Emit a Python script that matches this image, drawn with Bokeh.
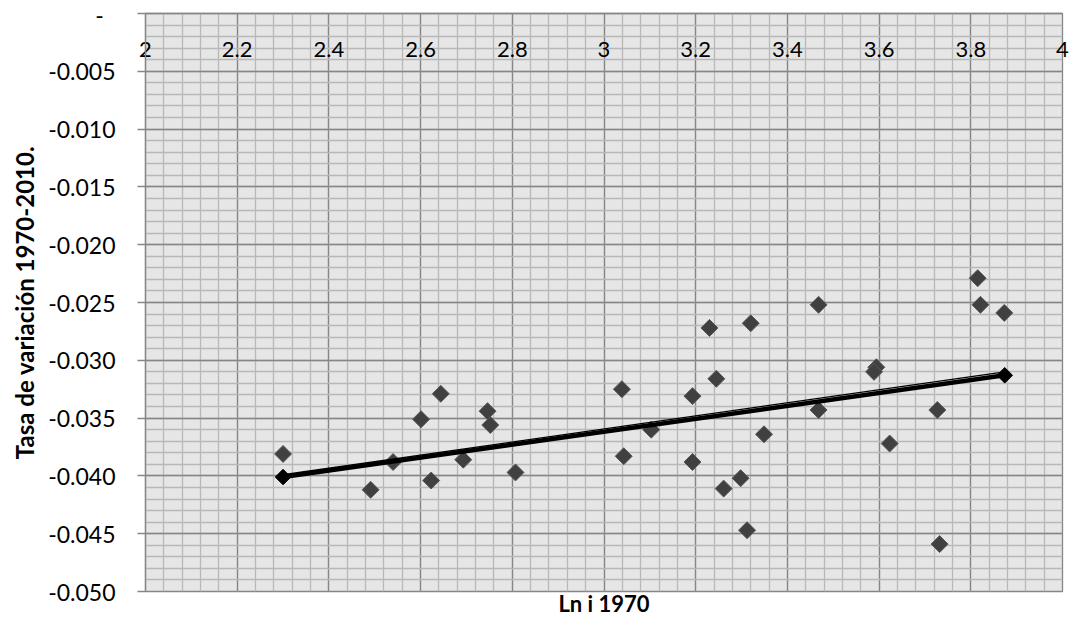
from bokeh.plotting import figure
from bokeh.models import FixedTicker, LinearAxis
from bokeh.embed import file_html
from bokeh.resources import INLINE

# ---- data ----
ln_i_1970 = [2.300, 2.491, 2.540, 2.601, 2.644, 2.623, 2.693, 2.746, 2.752, 2.807,
             3.039, 3.043, 3.103, 3.193, 3.245, 3.193, 3.349, 3.298, 3.261, 3.312,
             3.468, 3.623, 3.727, 3.732, 3.230, 3.320, 3.468, 3.594, 3.589, 3.815,
             3.821, 3.873]
tasa_1970_2010 = [-0.0381, -0.0412, -0.0388, -0.0351, -0.0329, -0.0404, -0.0386, -0.0344, -0.0356, -0.0397,
                  -0.0325, -0.0383, -0.0360, -0.0331, -0.0316, -0.0388, -0.0364, -0.0402, -0.0411, -0.0447,
                  -0.0343, -0.0372, -0.0343, -0.0459, -0.0272, -0.0268, -0.0252, -0.0306, -0.0310, -0.0229,
                  -0.0252, -0.0259]

trend_x = [2.300, 3.874]
trend_y = [-0.0401, -0.0313]
trend_thin_y = [-0.0399, -0.0310]

x_ticks = [2.0, 2.2, 2.4, 2.6, 2.8, 3.0, 3.2, 3.4, 3.6, 3.8, 4.0]
x_tick_labels = ["2", "2.2", "2.4", "2.6", "2.8", "3", "3.2", "3.4", "3.6", "3.8", "4"]
x_minor = [round(2 + 0.04 * i, 2) for i in range(51)]

y_ticks = [0.0, -0.005, -0.010, -0.015, -0.020, -0.025, -0.030, -0.035, -0.040, -0.045, -0.050]
y_tick_labels = ["-\u00a0\u00a0", "-0.005", "-0.010", "-0.015", "-0.020", "-0.025", "-0.030",
                 "-0.035", "-0.040", "-0.045", "-0.050"]
y_minor = [round(-0.001 * i, 3) for i in range(51)]

x_title = "Ln i 1970"
y_title = "Tasa de variación 1970-2010."

FONT = "Lato"
GRID_MAJOR = "#868686"

p = figure(width=1069, height=621, output_backend="svg", toolbar_location=None,
           x_range=(2, 4), y_range=(-0.05, 0), x_axis_location="above",
           min_border_left=145, min_border_right=7, min_border_top=13, min_border_bottom=30,
           background_fill_color="#e6e6e6", border_fill_color="white",
           outline_line_color=GRID_MAJOR, outline_line_width=1.3)

# x axis crosses at y = 0 (top); its labels sit just inside the plot
p.xaxis.ticker = FixedTicker(ticks=x_ticks, minor_ticks=x_minor)
p.xaxis.major_label_overrides = {t: l for t, l in zip(x_ticks, x_tick_labels)}
p.xaxis.major_tick_out = 0
p.xaxis.major_tick_in = 0
p.xaxis.minor_tick_out = 0
p.xaxis.minor_tick_in = 0
p.xaxis.axis_line_color = GRID_MAJOR
p.xaxis.axis_line_width = 1.3
p.xaxis.major_label_standoff = -43
p.xaxis.major_label_text_font = FONT
p.xaxis.major_label_text_font_size = "22px"
p.xaxis.major_label_text_color = "black"

# bottom axis carrying only the x title
bottom = LinearAxis(ticker=FixedTicker(ticks=[]),
                    major_tick_out=0, major_tick_in=0, minor_tick_out=0, minor_tick_in=0,
                    axis_line_color=None, major_label_standoff=0,
                    major_label_text_font_size="0px",
                    axis_label=x_title, axis_label_text_font=FONT,
                    axis_label_text_font_style="bold", axis_label_text_font_size="22px",
                    axis_label_text_color="black", axis_label_standoff=-2)
p.add_layout(bottom, "below")

p.yaxis.ticker = FixedTicker(ticks=y_ticks, minor_ticks=y_minor)
p.yaxis.major_label_overrides = {t: l for t, l in zip(y_ticks, y_tick_labels)}
p.yaxis.major_tick_out = 8
p.yaxis.major_tick_in = 0
p.yaxis.minor_tick_out = 0
p.yaxis.minor_tick_in = 0
p.yaxis.axis_line_color = GRID_MAJOR
p.yaxis.axis_line_width = 1.3
p.yaxis.major_tick_line_color = GRID_MAJOR
p.yaxis.major_tick_line_width = 1.3
p.yaxis.major_label_text_font = FONT
p.yaxis.major_label_text_font_size = "23px"
p.yaxis.major_label_text_color = "black"
p.yaxis.major_label_standoff = 22
p.yaxis.axis_label = y_title
p.yaxis.axis_label_text_font = FONT
p.yaxis.axis_label_text_font_style = "bold"
p.yaxis.axis_label_text_font_size = "24px"
p.yaxis.axis_label_text_color = "black"
p.yaxis.axis_label_standoff = 6

# grids
p.xgrid.ticker = FixedTicker(ticks=x_ticks, minor_ticks=x_minor)
p.ygrid.ticker = FixedTicker(ticks=y_ticks, minor_ticks=y_minor)
for g in (p.xgrid, p.ygrid):
    g.grid_line_color = GRID_MAJOR
    g.grid_line_width = 1.3
    g.minor_grid_line_color = "#b8b8b8"
    g.minor_grid_line_width = 1.3

# data points
p.scatter(ln_i_1970, tasa_1970_2010, marker="square", size=12, angle=0.785398,
          fill_color="#404040", line_color="#595959", line_width=1)

# trend
p.line(trend_x, trend_thin_y, line_color="black", line_width=1.3)
p.line(trend_x, trend_y, line_color="black", line_width=4.5)
p.scatter(trend_x, trend_y, marker="square", size=11, angle=0.785398,
          fill_color="black", line_color="black")

open("out.html", "w").write(file_html(p, INLINE))
